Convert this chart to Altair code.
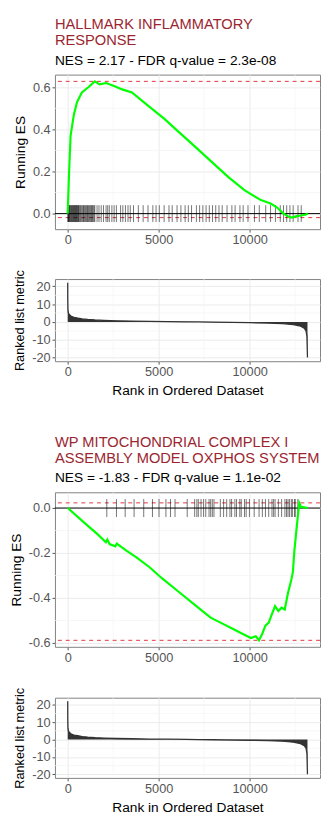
import altair as alt
import pandas as pd

# ---------------- data ----------------
# Panel 1: HALLMARK INFLAMMATORY RESPONSE
es1_rank = [1, 70, 160, 340, 515, 780, 1135, 1490, 1755, 2110, 2550, 2995, 3530,
            4415, 5300, 6190, 7075, 7960, 8850, 9735, 10620, 11150, 11500, 11860,
            12100, 12300, 12600, 12900, 13100, 13200]
es1_value = [0, 0.18, 0.37, 0.47, 0.53, 0.575, 0.60, 0.628, 0.614, 0.62, 0.606, 0.59,
             0.575, 0.513, 0.451, 0.381, 0.312, 0.242, 0.172, 0.110, 0.064, 0.048,
             0.03, 0.0, -0.012, -0.019, -0.012, -0.008, -0.004, 0.0]
hits1 = [10, 30, 50, 71, 95, 120, 160, 190, 220, 249, 280, 310, 337, 370, 400, 426,
         460, 490, 515, 550, 580, 603, 640, 692, 730, 780, 830, 869, 910, 958, 1000,
         1046, 1090, 1135, 1180, 1224, 1270, 1312, 1360, 1401, 1450, 1490, 1614, 1720,
         1844, 1968, 2110, 2199, 2288, 2429, 2553, 2678, 2908, 3032, 3174, 3316, 3440,
         3617, 3883, 4149, 4415, 4681, 4858, 5036, 5302, 5568, 5745, 6011, 6224, 6454,
         6631, 6809, 7075, 7252, 7429, 7607, 7784, 7961, 8138, 8316, 8493, 8759, 9025,
         9202, 9468, 9645, 9911, 10266, 10532, 10886, 11152, 11418, 11684, 11861,
         12039, 12216, 12394, 12660, 12837]
es1_extremes = [0.628, -0.019]
title1 = ["HALLMARK INFLAMMATORY", "RESPONSE"]
subtitle1 = "NES = 2.17 - FDR q-value = 2.3e-08"

# Panel 2: WP MITOCHONDRIAL COMPLEX I ASSEMBLY MODEL OXPHOS SYSTEM
es2_rank = [1, 940, 1650, 2100, 2180, 2300, 2620, 2700, 3245, 3780, 4485, 5195, 6080,
            6970, 7855, 8565, 9095, 9630, 10070, 10340, 10515, 10690, 10870, 11050,
            11220, 11400, 11580, 11755, 11930, 12110, 12290, 12380, 12460, 12550,
            12640, 12730, 12820, 13000, 13200]
es2_value = [0, -0.067, -0.117, -0.152, -0.14, -0.16, -0.17, -0.158, -0.19, -0.219,
             -0.262, -0.313, -0.371, -0.429, -0.487, -0.516, -0.538, -0.560, -0.578,
             -0.570, -0.588, -0.560, -0.523, -0.509, -0.473, -0.436, -0.458, -0.443,
             -0.451, -0.378, -0.320, -0.284, -0.19, -0.117, -0.045, 0.023, 0.006,
             0.003, 0.0]
hits2 = [2150, 2680, 3160, 3650, 4180, 4660, 5020, 5400, 5650, 5900, 6570, 6980, 7100,
         7180, 7330, 7470, 7590, 7770, 7860, 7950, 8040, 8390, 8570, 8740, 8920, 9010,
         9190, 9280, 9460, 9540, 9720, 9810, 9990, 10250, 10520, 10700, 10870, 11050,
         11230, 11320, 11400, 11580, 11760, 11940, 12030, 12110, 12190, 12290, 12350,
         12470, 12510, 12650]
es2_extremes = [0.023, -0.588]
title2 = ["WP MITOCHONDRIAL COMPLEX I", "ASSEMBLY MODEL OXPHOS SYSTEM"]
subtitle2 = "NES = -1.83 - FDR q-value = 1.1e-02"

# Ranked list metric (same ranked list for both sets)
metric_rank = [1, 5, 15, 40, 100, 200, 350, 550, 800, 1100, 1500, 2000, 2700, 3500,
               4500, 5500, 6500, 7200, 8000, 9000, 10000, 11000, 11800, 12400, 12800,
               13000, 13100, 13150, 13180]
metric_value = [22, 12, 7, 5, 4, 3.2, 2.6, 2.2, 1.7, 1.4, 1.1, 0.85, 0.6, 0.45, 0.3,
                0.18, 0.05, 0, -0.12, -0.28, -0.42, -0.65, -0.95, -1.5, -2.4, -3.5,
                -5, -8, -20]

x_ticks = [0, 5000, 10000]
x_minor = [2500, 7500, 12500]

# ---------------- styling ----------------
FONT = "Liberation Sans"
X_DOMAIN = [-700, 13870]
RUG_HALF = 0.04
GREEN = "#00FF00"
RED = "#E0353D"
TITLE_RED = "#9B2630"
MINOR = "#F4F4F4"
UNMINUS = "replace(datum.label, '\u2212', '-')"
PLOT_W = 271


def x_enc(show_title):
    return alt.X(
        "rank:Q",
        scale=alt.Scale(domain=X_DOMAIN, nice=False, zero=False),
        axis=alt.Axis(values=x_ticks, format="d", grid=True,
                      title="Rank in Ordered Dataset" if show_title else None),
    )


def es_chart(ranks, values, hits, extremes, y_ticks, y_minor, y_domain,
             title_lines, subtitle, height):
    y = alt.Y("es:Q", scale=alt.Scale(domain=y_domain, nice=False, zero=False),
              axis=alt.Axis(values=y_ticks, format=".1f", labelExpr=UNMINUS,
                            grid=True, title="Running ES"))
    curve = pd.DataFrame({"rank": ranks, "es": values})
    rug = pd.DataFrame({"rank": hits})
    ext = pd.DataFrame({"es": extremes})
    zero = pd.DataFrame({"es": [0.0]})
    vminor = pd.DataFrame({"rank": x_minor})
    hminor = pd.DataFrame({"es": y_minor})

    l_vmin = alt.Chart(vminor).mark_rule(color=MINOR, strokeWidth=0.7).encode(x=x_enc(False))
    l_hmin = alt.Chart(hminor).mark_rule(color=MINOR, strokeWidth=0.7).encode(y=y)
    l_ext = alt.Chart(ext).mark_rule(color=RED, strokeDash=[4, 4], strokeWidth=1).encode(y=y)
    l_rug = (alt.Chart(rug)
             .transform_calculate(es=str(-RUG_HALF), es2=str(RUG_HALF))
             .mark_rule(color="black", strokeWidth=1, opacity=0.55)
             .encode(x=x_enc(False), y=y, y2="es2:Q"))
    l_zero = alt.Chart(zero).mark_rule(color="black", strokeWidth=1).encode(y=y)
    l_line = alt.Chart(curve).mark_line(color=GREEN, strokeWidth=2.2).encode(x=x_enc(False), y=y)

    return alt.layer(l_vmin, l_hmin, l_ext, l_rug, l_zero, l_line).properties(
        width=PLOT_W, height=height,
        title=alt.TitleParams(text=title_lines, subtitle=subtitle, anchor="start",
                              frame="group", font=FONT, fontSize=15, fontWeight="normal",
                              color=TITLE_RED, lineHeight=16, subtitleFont=FONT,
                              subtitleFontSize=14, subtitleColor="black",
                              subtitlePadding=6, offset=7),
    )


def metric_chart(height, spacer):
    y = alt.Y("metric:Q", scale=alt.Scale(domain=[-22.1, 24.1], nice=False, zero=False),
              axis=alt.Axis(values=[-20, -10, 0, 10, 20], labelExpr=UNMINUS, grid=True,
                            title="Ranked list metric", titleFontSize=13))
    m = pd.DataFrame({"rank": metric_rank, "metric": metric_value})
    vminor = pd.DataFrame({"rank": x_minor})
    hminor = pd.DataFrame({"metric": [-15, -5, 5, 15]})
    l_vmin = alt.Chart(vminor).mark_rule(color=MINOR, strokeWidth=0.7).encode(x=x_enc(True))
    l_hmin = alt.Chart(hminor).mark_rule(color=MINOR, strokeWidth=0.7).encode(y=y)
    l_area = alt.Chart(m).mark_area(color="#333333").encode(x=x_enc(True), y=y, y2=alt.Y2(datum=0))
    l_line = alt.Chart(m).mark_line(color="#333333", strokeWidth=1.3).encode(x=x_enc(True), y=y)
    layer = alt.layer(l_vmin, l_hmin, l_area, l_line)
    if spacer:
        # an invisible bottom title only adds blank space below this panel
        return layer.properties(width=PLOT_W, height=height,
                                title=alt.TitleParams(text=" ", orient="bottom",
                                                      fontSize=17, offset=0,
                                                      color="white"))
    return layer.properties(width=PLOT_W, height=height)


c1 = es_chart(es1_rank, es1_value, hits1, es1_extremes, [0, 0.2, 0.4, 0.6],
              [0.1, 0.3, 0.5], [-0.074, 0.66], title1, subtitle1, 158)
c2 = metric_chart(84, True)
c3 = es_chart(es2_rank, es2_value, hits2, es2_extremes, [-0.6, -0.4, -0.2, 0.0],
              [-0.5, -0.3, -0.1], [-0.617, 0.07], title2, subtitle2, 158)
c4 = metric_chart(82, False)

chart = alt.vconcat(c1, c2, c3, c4, spacing=21).properties(
    padding={"left": 1, "top": 0, "right": 0, "bottom": 0},
    background="white",
).configure_view(stroke="#808080", strokeWidth=1).configure_axis(
    labelFont=FONT, titleFont=FONT, labelFontSize=13, labelColor="#555555",
    titleFontSize=14, titleColor="black", titleFontWeight="normal",
    tickColor="#555555", tickSize=3, labelPadding=2, titlePadding=5, domain=False,
    gridColor="#EBEBEB", gridWidth=1,
)

chart.save("out.html", embed_options={"renderer": "svg", "actions": False})
